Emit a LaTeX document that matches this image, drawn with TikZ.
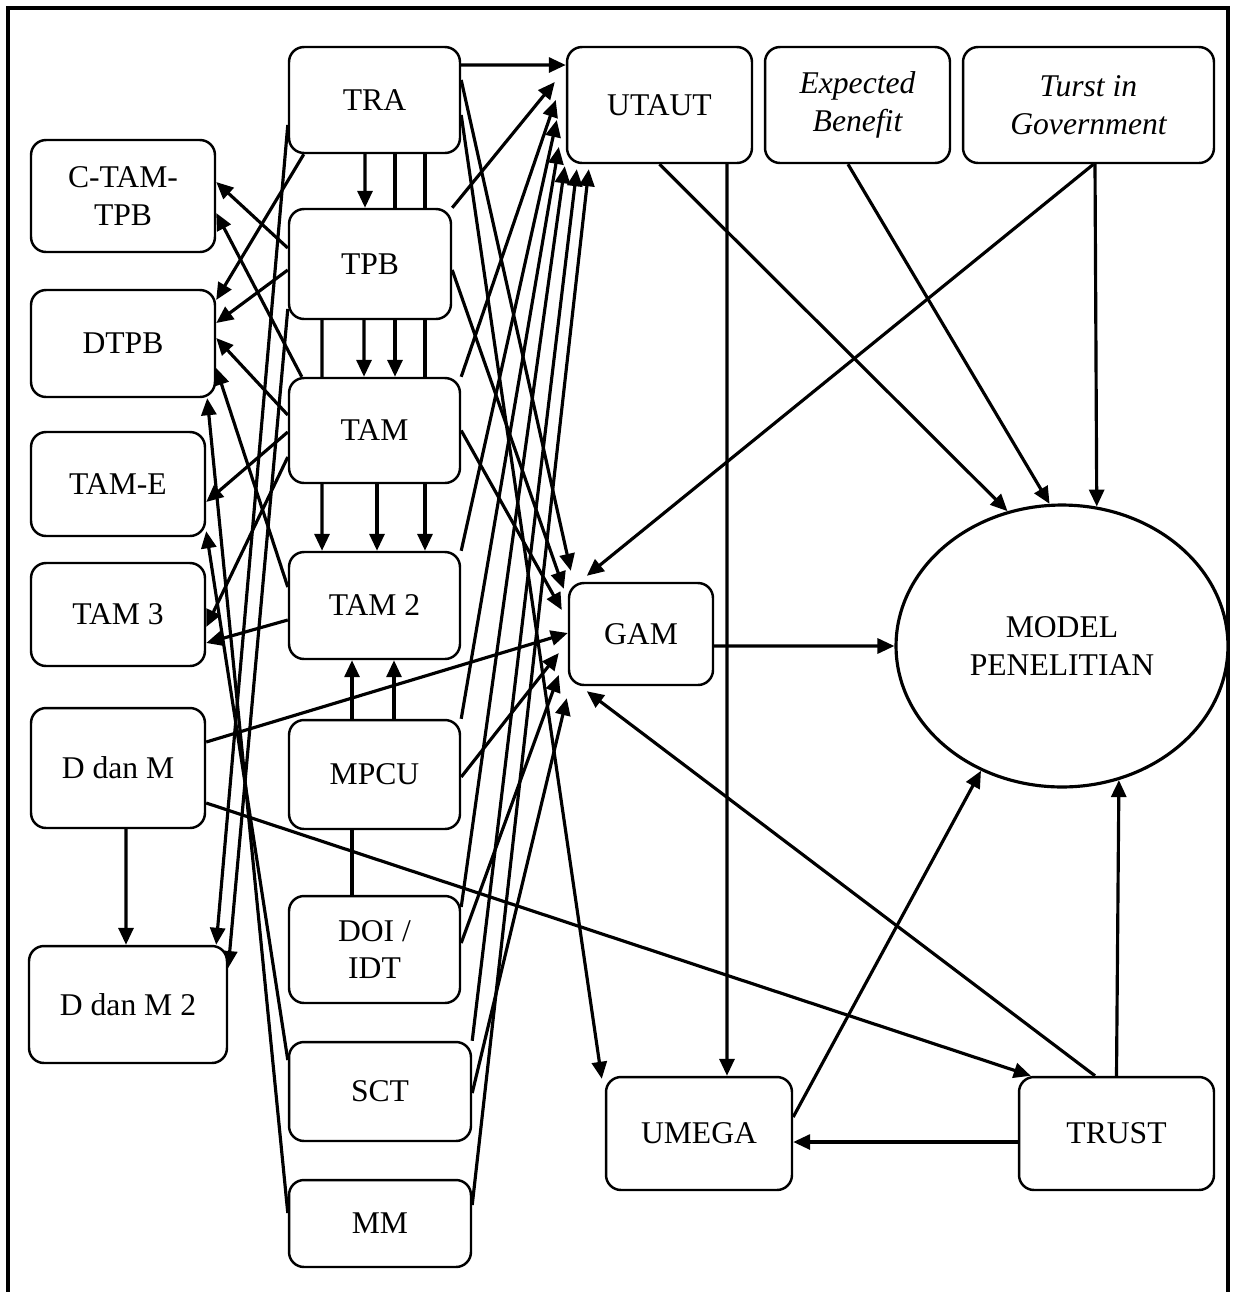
\documentclass[tikz,border=0pt]{standalone}
\usepackage{fontspec}
\setmainfont{Liberation Serif}
\usetikzlibrary{calc,arrows.meta,shapes.geometric}
\pgfdeclarelayer{bg}
\pgfsetlayers{bg,main}

\begin{document}
\begin{tikzpicture}[x=0.02cm,y=-0.02cm,
        >={Triangle[length=0.34cm,width=0.3cm]},
        box/.style={draw,fill=white,rounded corners=0.3cm,line width=1.4pt,inner sep=0pt,align=center,font=\fontsize{18}{21.5}\selectfont},
        itbox/.style={font=\fontsize{18}{21.5}\selectfont\itshape},
        link/.style={->,line width=1.8pt}]
            \useasboundingbox (0,0) rectangle (1235,1292);
            \draw[line width=1.8pt] (8,1292) -- (8,8) -- (1228,8) -- (1228,1292);
            % left column
            \node[box,minimum width=3.68cm,minimum height=2.24cm] (ctam) at (123,196) {C-TAM-\\TPB};
            \node[box,minimum width=3.68cm,minimum height=2.14cm] (dtpb) at (123,343.5) {DTPB};
            \node[box,minimum width=3.48cm,minimum height=2.08cm] (tame) at (118,484) {TAM-E};
            \node[box,minimum width=3.48cm,minimum height=2.06cm] (tamthree) at (118,614.5) {TAM 3};
            \node[box,minimum width=3.48cm,minimum height=2.4cm] (ddm) at (118,768) {D dan M};
            \node[box,minimum width=3.96cm,minimum height=2.34cm] (ddmtwo) at (128,1004.5) {D dan M 2};
            % middle column
            \node[box,minimum width=3.42cm,minimum height=2.12cm] (tra) at (374.5,100) {TRA};
            \node[box,minimum width=3.24cm,minimum height=2.2cm] (tpb) at (370,264) {TPB};
            \node[box,minimum width=3.42cm,minimum height=2.1cm] (tam) at (374.5,430.5) {TAM};
            \node[box,minimum width=3.42cm,minimum height=2.14cm] (tamtwo) at (374.5,605.5) {TAM 2};
            \node[box,minimum width=3.42cm,minimum height=2.18cm] (mpcu) at (374.5,774.5) {MPCU};
            \node[box,minimum width=3.42cm,minimum height=2.14cm] (doi) at (374.5,949.5) {DOI /\\IDT};
            \node[box,minimum width=3.64cm,minimum height=1.98cm] (sct) at (380,1091.5) {SCT};
            \node[box,minimum width=3.64cm,minimum height=1.74cm] (mm) at (380,1223.5) {MM};
            % right part
            \node[box,minimum width=3.7cm,minimum height=2.32cm] (utaut) at (659.5,105) {UTAUT};
            \node[box,itbox,minimum width=3.7cm,minimum height=2.32cm] (eb) at (857.5,105) {Expected\\Benefit};
            \node[box,itbox,minimum width=5.02cm,minimum height=2.32cm] (tig) at (1088.5,105) {Turst in\\Government};
            \node[box,minimum width=2.88cm,minimum height=2.04cm] (gam) at (641,634) {GAM};
            \node[draw,ellipse,fill=white,line width=1.8pt,inner sep=0pt,align=center,font=\fontsize{18}{21.5}\selectfont,
                minimum width=6.64cm,minimum height=5.64cm] (model) at (1062,646) {MODEL\\PENELITIAN};
            \node[box,minimum width=3.72cm,minimum height=2.26cm] (umega) at (699,1133.5) {UMEGA};
            \node[box,minimum width=3.9cm,minimum height=2.26cm] (trust) at (1116.5,1133.5) {TRUST};

            \begin{pgfonlayer}{bg}
            % down the middle column
            \draw[link] ([xshift=-0.19cm]tra.south) -- ([xshift=-0.1cm]tpb.north);
            \draw[link] ([xshift=0.41cm]tra.south) -- ([xshift=0.41cm]tam.north);
            \draw[link] ([xshift=1.01cm]tra.south) -- ([xshift=1.01cm]tamtwo.north);
            \draw[link] ([xshift=-0.12cm]tpb.south) -- ([xshift=-0.21cm]tam.north);
            \draw[link] ([xshift=-0.96cm]tpb.south) -- ([xshift=-1.05cm]tamtwo.north);
            \draw[link] ([xshift=0.05cm]tam.south) -- ([xshift=0.05cm]tamtwo.north);
            \draw[link] ([xshift=0.39cm]mpcu.north) -- ([xshift=0.39cm]tamtwo.south);
            \draw[link] ([xshift=-0.45cm]doi.north) -- ([xshift=-0.45cm]tamtwo.south);
            \draw[link] ([xshift=0.16cm]ddm.south) -- ([xshift=-0.04cm]ddmtwo.north);
            % to the left column
            \draw[link] ([yshift=0.32cm]tpb.west) -- ([yshift=0.28cm]ctam.east);
            \draw[link] ([xshift=0.28cm]tam.north west) -- ([yshift=-0.34cm]ctam.east);
            \draw[link] ([xshift=0.32cm]tra.south west) -- ([yshift=0.87cm]dtpb.east);
            \draw[link] ([yshift=-0.12cm]tpb.west) -- ([yshift=0.41cm]dtpb.east);
            \draw[link] ([yshift=0.31cm]tam.west) -- ([yshift=0.11cm]dtpb.east);
            \draw[link] ([yshift=0.37cm]tamtwo.west) -- ([yshift=-0.49cm]dtpb.east);
            \draw[link] ([yshift=0.21cm]mm.west) -- ([xshift=-0.18cm]dtpb.south east);
            \draw[link] ([yshift=-0.03cm]tam.west) -- ([yshift=-0.36cm]tame.east);
            \draw[link] ([yshift=0.63cm]sct.west) -- ([yshift=0.12cm]tame.south east);
            \draw[link] ([yshift=-0.53cm]tam.west) -- ([yshift=-0.25cm]tamthree.east);
            \draw[link] ([yshift=-0.29cm]tamtwo.west) -- ([yshift=-0.57cm]tamthree.east);
            \draw[link] ([yshift=-0.5cm]tra.west) -- ([xshift=-0.24cm]ddmtwo.north east);
            \draw[link] ([yshift=-0.9cm]tpb.west) -- ([yshift=0.73cm]ddmtwo.east);
            % to UTAUT
            \draw[link] ([yshift=0.7cm]tra.east) -- ([yshift=0.8cm]utaut.west);
            \draw[link] (tpb.north east) -- ([xshift=-0.22cm,yshift=0.46cm]utaut.west);
            \draw[link] (tam.north east) -- ([xshift=-0.2cm,yshift=0.1cm]utaut.west);
            \draw[link] (tamtwo.north east) -- ([xshift=-0.18cm,yshift=-0.3cm]utaut.west);
            \draw[link] (mpcu.north east) -- ([xshift=-0.14cm,yshift=-0.84cm]utaut.west);
            \draw[link] ([yshift=0.85cm]doi.east) -- ([xshift=-0.02cm,yshift=-0.04cm]utaut.south west);
            \draw[link] (sct.north east) -- ([xshift=0.22cm,yshift=-0.1cm]utaut.south west);
            \draw[link] ([yshift=0.37cm]mm.east) -- ([xshift=0.46cm,yshift=-0.1cm]utaut.south west);
            % to GAM
            \draw[link] ([yshift=0.4cm]tra.east) -- ([xshift=0.06cm,yshift=0.22cm]gam.north west);
            \draw[link] ([yshift=-0.12cm]tpb.east) -- ([xshift=-0.08cm,yshift=-0.14cm]gam.north west);
            \draw[link] (tam.east) -- ([xshift=-0.12cm,yshift=0.48cm]gam.west);
            \draw[link] ([yshift=0.52cm]ddm.east) -- ([yshift=0.02cm]gam.west);
            \draw[link] ([yshift=-0.05cm]mpcu.east) -- ([xshift=-0.18cm,yshift=-0.38cm]gam.west);
            \draw[link] ([yshift=0.13cm]doi.east) -- ([xshift=-0.18cm,yshift=-0.82cm]gam.west);
            \draw[link] ([yshift=-0.03cm]sct.east) -- ([xshift=-0.02cm,yshift=-0.24cm]gam.south west);
            \draw[link] ([xshift=-0.43cm]trust.north) -- ([xshift=0.38cm,yshift=-0.1cm]gam.south west);
            \draw[link] ([xshift=0.1cm]tig.south) -- ([xshift=0.38cm,yshift=0.12cm]gam.north west);
            % the rest
            \draw[link] ([yshift=-0.3cm]tra.east) -- ([xshift=-0.06cm,yshift=-0.06cm]umega.north west);
            \draw[link] (utaut.south) -- (model.112);
            \draw[link] ([xshift=1.35cm]utaut.south) -- ([xshift=0.56cm]umega.north);
            \draw[link] ([xshift=-0.19cm]eb.south) -- (model.95);
            \draw[link] ([xshift=0.13cm]tig.south) -- (model.76.5);
            \draw[link] ([yshift=-0.24cm]gam.east) -- (model.west);
            \draw[link] ([yshift=0.33cm]umega.east) -- (model.-123);
            \draw[link] (trust.north) -- (model.-67.5);
            \draw[link] ([yshift=-0.17cm]trust.west) -- ([yshift=-0.17cm]umega.east);
            \draw[link] ([yshift=-0.7cm]ddm.east) -- ([xshift=0.26cm]trust.north west);
            \end{pgfonlayer}
    \end{tikzpicture}
\end{document}
